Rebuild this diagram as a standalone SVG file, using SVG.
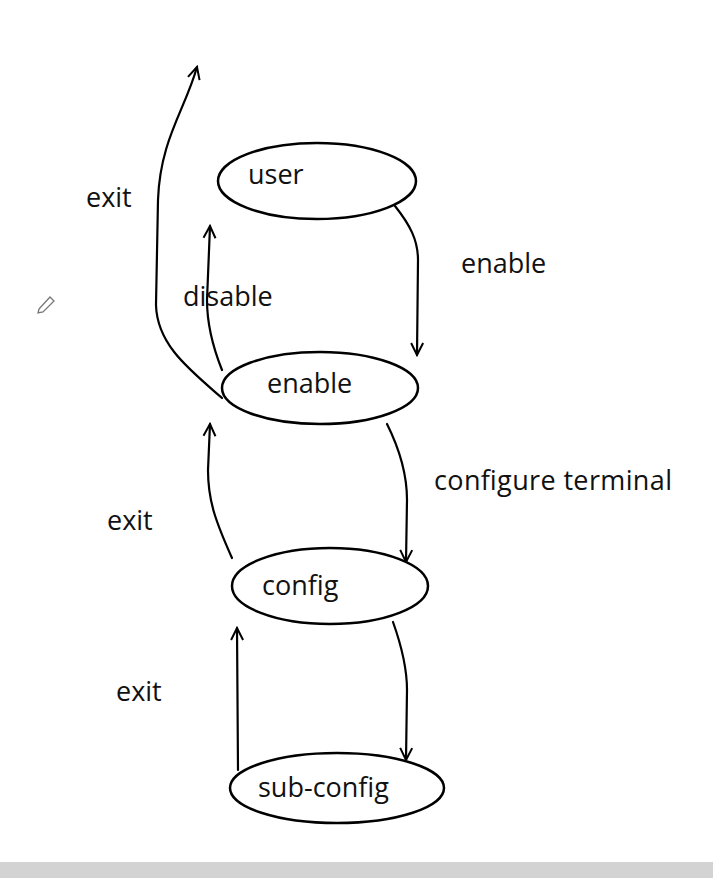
<svg xmlns="http://www.w3.org/2000/svg" width="713" height="878" viewBox="0 0 713 878">
<defs>
<style>
.node ellipse{fill:#fff;stroke:#000;stroke-width:2.5}
text{font-family:"Open Sans","Noto Sans","Liberation Sans",sans-serif;font-size:27px;fill:#111}
.edge{fill:none;stroke:#000;stroke-width:2.2;stroke-linecap:round;stroke-linejoin:round}
</style>
<marker id="arr" viewBox="0 0 16 16" refX="14" refY="8" markerWidth="16" markerHeight="16" markerUnits="userSpaceOnUse" orient="auto">
<path d="M2 2 L14 8 L2 14" fill="none" stroke="#000" stroke-width="2"/>
</marker>
</defs>
<rect width="713" height="878" fill="#fff"/>
<rect x="0" y="862" width="713" height="16" fill="#d3d3d3"/>
<g id="connectors">
<path class="edge" d="M222 398 C190 370 157 345 156 305 L158 200 C160 140 185 110 197 67" marker-end="url(#arr)"/>
<path class="edge" d="M222 370 C210 340 207 320 207 300 L210 226" marker-end="url(#arr)"/>
<path class="edge" d="M395 206 C410 225 418 240 418 260 L417 355" marker-end="url(#arr)"/>
<path class="edge" d="M387 424 C400 450 407 475 407 500 L406 562" marker-end="url(#arr)"/>
<path class="edge" d="M232 558 C215 520 208 500 208 470 L210 424" marker-end="url(#arr)"/>
<path class="edge" d="M393 622 C403 650 407 670 407 690 L406 760" marker-end="url(#arr)"/>
<path class="edge" d="M238 770 L237 628" marker-end="url(#arr)"/>
<text x="86" y="207">exit</text>
<text x="183" y="306">disable</text>
<text x="461" y="273">enable</text>
<text x="434" y="490" textLength="238">configure terminal</text>
<text x="107" y="530">exit</text>
<text x="116" y="701">exit</text>
</g>
<g id="user" class="node"><ellipse cx="317" cy="181" rx="99" ry="38"/><text x="248" y="184">user</text></g>
<g id="enable" class="node"><ellipse cx="320" cy="388" rx="98" ry="36"/><text x="267" y="393">enable</text></g>
<g id="config" class="node"><ellipse cx="330" cy="586" rx="98" ry="38"/><text x="262" y="595">config</text></g>
<g id="sub-config" class="node"><ellipse cx="337" cy="788" rx="107" ry="35"/><text x="258" y="797">sub-config</text></g>
<g id="pencil" fill="none" stroke="#777" stroke-width="1.3">
<path d="M39 309 L50 297 L54 301 L43 312 L38 313 Z"/>
</g>
</svg>
